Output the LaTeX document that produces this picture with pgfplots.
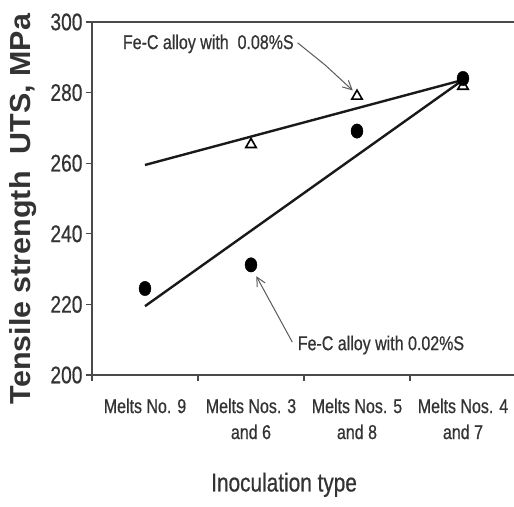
\documentclass[border=0pt]{standalone}
\usepackage{pgfplots}
\pgfplotsset{compat=1.18}
\usepackage{fontspec}
\setmainfont[FakeStretch=0.8,FakeBold=0.6]{Liberation Sans}
\newfontfamily\ylabfont[FakeStretch=1.05]{Liberation Sans}
\usetikzlibrary{arrows.meta}
\definecolor{txt}{HTML}{333333}
\definecolor{axc}{HTML}{4A4A4A}
\begin{document}
\begin{tikzpicture}
\begin{axis}[
  scale only axis, width=424pt, height=353pt,
  xmin=0, xmax=4, ymin=200, ymax=300,
  axis line style={draw=axc, line width=2.2pt},
  xtick={0,1,2,3,4}, xticklabels={},
  extra x ticks={0.5,1.5,2.5,3.5},
  extra x tick labels={Melts No. 9, Melts Nos. 3\\and 6, Melts Nos. 5\\and 8, Melts Nos. 4\\and 7},
  extra x tick style={major tick length=0pt, tick label style={align=center, font=\fontsize{20}{26}\selectfont, text=txt, yshift=-20pt}},
  ytick={200,220,...,300},
  xtick pos=bottom, ytick pos=left,
  tick align=outside, major tick length=6pt,
  tick style={draw=axc, line width=1.2pt},
  y tick label style={font=\fontsize{24}{24}\selectfont, text=txt},
  /pgf/number format/assume math mode=true,
  xlabel={Inoculation type},
  xlabel style={font=\fontsize{26}{26}\selectfont, text=txt, at={(axis description cs:0.453,-0.33)}, anchor=base},
  ylabel={Tensile strength\ \ UTS, MPa},
  ylabel style={font=\ylabfont\bfseries\fontsize{29}{29}\selectfont, text=txt, at={(axis description cs:-0.163,0.47)}, anchor=center},
  clip=false,
]
\addplot[black!90, line width=2.4pt, no marks] coordinates {(0.5,259.5) (3.5,283.6)};
\addplot[black!90, line width=2.4pt, no marks] coordinates {(0.5,219.5) (3.5,283.6)};
\addplot[only marks, mark=*, mark size=6pt, mark options={black, yscale=1.2}] coordinates {(0.5,224.5) (1.5,231.2) (2.5,269.1) (3.5,284.0)};
\addplot[only marks, mark=triangle, mark size=6pt, mark options={black, line width=1.6pt}] coordinates {(1.5,265.3) (2.5,279.0) (3.5,281.8)};
\node[anchor=west, inner sep=0pt, text=txt, font=\fontsize{20}{20}\selectfont] at (axis cs:0.29,293.8) {Fe-C alloy with\ \ 0.08\%S};
\draw[gray!70!black, line width=1pt, -{Straight Barb[length=9pt,width=9pt]}] (axis cs:1.94,294.1) -- (axis cs:2.2,287.8) -- (axis cs:2.46,280.6);
\node[anchor=west, inner sep=0pt, text=txt, font=\fontsize{20}{20}\selectfont] at (axis cs:1.94,208.5) {Fe-C alloy with 0.02\%S};
\draw[gray!70!black, line width=1pt, -{Straight Barb[length=9pt,width=9pt]}] (axis cs:1.89,209.3) -- (axis cs:1.55,228.0);
\end{axis}
\pgfresetboundingbox
\path[use as bounding box] (-92pt,-131pt) rectangle (422pt,375pt);
\end{tikzpicture}
\end{document}
